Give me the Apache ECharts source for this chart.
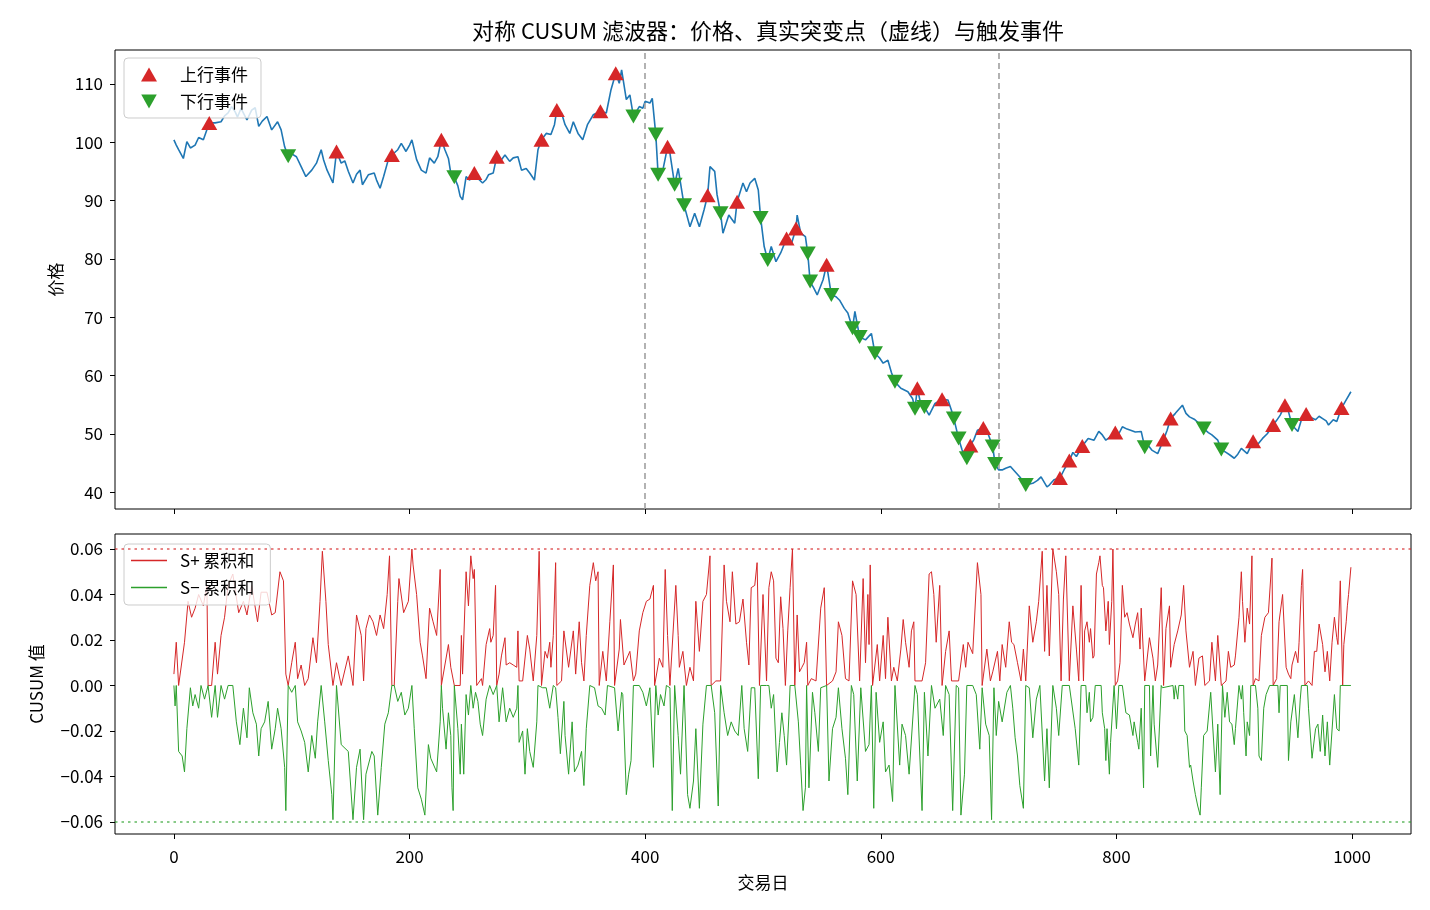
<!DOCTYPE html>
<html>
<head>
<meta charset="utf-8">
<script src="https://cdn.jsdelivr.net/npm/echarts@6/dist/echarts.min.js"></script>
<style>html,body{margin:0;padding:0;background:#fff;}#c{width:1430px;height:910px;}</style>
</head>
<body>
<div id="c"></div>
<script>
const xTicks = [0,200,400,600,800,1000];
const priceTicks = [40,50,60,70,80,90,100,110];
const cusumTicks = [-0.06,-0.04,-0.02,0,0.02,0.04,0.06];
const changePoints = [400,700];
const threshold = 0.06;

const price = [[0,100.4],[2,99.5],[4,98.7],[8,97.2],[11,100.1],[14,99],[18,99.5],[21,100.8],[25,100.4],[30,103.3],[35,103.3],[40,103.5],[43,104.5],[46,105],[49,106.1],[52,105.2],[54,104.3],[57,105.8],[60,104.6],[62,103.8],[66,105.5],[69,105.9],[72,102.7],[75,103.6],[79,104.4],[83,102.1],[88,103.5],[91,102.1],[94,99.2],[97,97.6],[100,98],[104,97.5],[108,95.8],[112,94.1],[117,95.2],[121,96.4],[125,98.7],[127,97],[130,95.2],[135,93],[138,98.4],[142,96.4],[145,96.8],[148,95],[152,93],[155,94.5],[158,95.2],[160,92.7],[165,94.4],[170,94.7],[172,93.5],[175,92.1],[178,94.1],[182,97],[185,97.8],[190,98.7],[193,99.8],[197,98.4],[200,99.5],[202,100.4],[206,97],[210,95.2],[214,94.7],[217,97.3],[221,96.4],[224,97.5],[227,100.4],[230,98.7],[233,97.2],[235,94.7],[238,94.0],[241,92.5],[243,90.7],[245,90.1],[248,94.1],[251,93.5],[255,94.7],[258,93.8],[262,93],[265,93.6],[267,94.4],[271,94.7],[274,97.5],[278,97],[281,97.8],[285,96.7],[288,97.3],[292,97.5],[295,95.2],[299,95.5],[302,94.7],[306,93.5],[309,98.7],[312,100.4],[316,101.5],[320,101.3],[323,103],[325,105.5],[329,105],[332,103],[336,101.5],[339,103.5],[343,101.5],[347,100.4],[351,103],[356,104.7],[359,105],[362,105.3],[367,105],[371,109],[375,111.8],[378,110.1],[380,112.4],[384,107.3],[387,108.1],[390,104.4],[395,106.1],[398,105.8],[400,107],[404,106.7],[406,107.5],[409,101.3],[411,94.4],[415,95.2],[419,99.2],[421,98.1],[425,92.7],[428,95.5],[433,89.2],[438,85.5],[442,87.8],[446,85.5],[450,88.4],[453,90.9],[455,95.8],[459,95],[461,91],[464,87.8],[466,84.4],[471,87.5],[476,86.1],[478,89.8],[483,93],[486,91.5],[489,93],[493,93.8],[496,91.8],[498,87],[501,82.1],[504,79.8],[507,82.1],[511,79.5],[515,81],[520,83.5],[524,82.5],[528,85.2],[529,87.5],[532,84.4],[536,83.8],[538,80.9],[540,76.1],[543,75],[546,73.8],[551,76.4],[554,79],[558,73.8],[562,73.5],[565,72.9],[569,71.5],[572,70.7],[576,68.1],[578,71],[582,66.6],[587,66.1],[592,67.2],[595,63.8],[599,63],[602,62.1],[606,62.6],[609,60.5],[612,58.9],[617,57.8],[623,57.2],[627,56],[629,54.3],[631,57.8],[634,55],[637,54.6],[641,53.2],[646,55.2],[652,55.9],[657,55.8],[660,54],[662,52.6],[666,49.2],[669,47.2],[673,45.8],[676,48],[679,49],[682,50.6],[687,51],[691,50],[695,47.8],[697,44.8],[700,43.8],[703,43.8],[706,44.1],[710,44.4],[714,43.5],[718,42.6],[723,41.2],[729,41.5],[733,42],[736,42.6],[741,40.9],[743,41.2],[747,42.1],[752,42.4],[756,44],[760,45.4],[763,46.8],[766,46.1],[771,47.9],[776,49.2],[781,48.9],[785,50.4],[788,49.8],[791,48.9],[795,49.5],[799,50.2],[802,50],[805,51.2],[809,50.8],[812,50.6],[816,50.3],[821,50.4],[824,47.7],[827,48],[830,47.2],[835,46.6],[840,49],[843,50.6],[846,52.6],[850,53.5],[853,54.2],[856,54.9],[859,53.5],[862,52.9],[866,52.5],[870,51.8],[874,50.9],[878,50.2],[881,49.8],[886,48.9],[889,47.3],[893,46.8],[896,46.4],[900,45.8],[903,46.5],[906,47.5],[911,46.6],[916,48.7],[920,48.2],[924,49.2],[928,50],[933,51.5],[936,52.3],[939,53.2],[943,54.9],[946,53.8],[949,51.5],[954,50.4],[957,52.4],[961,53.4],[965,52.8],[969,52.4],[972,53],[975,52.6],[978,52.2],[980,51.5],[984,52.4],[987,52.1],[991,54.4],[995,55.8],[999,57.2]];

const upEvents = [[30,103.3],[138,98.4],[185,97.8],[227,100.4],[255,94.7],[274,97.5],[312,100.4],[325,105.5],[362,105.3],[375,111.8],[419,99.2],[453,90.9],[478,89.8],[520,83.5],[528,85.2],[554,79],[631,57.8],[652,55.9],[676,48],[687,51],[752,42.4],[760,45.4],[771,47.9],[799,50.2],[840,49],[846,52.6],[916,48.7],[933,51.5],[943,54.9],[961,53.4],[991,54.4]];

const downEvents = [[97,97.6],[238,94],[390,104.4],[409,101.3],[411,94.4],[425,92.7],[433,89.2],[464,87.8],[498,87],[504,79.8],[538,80.9],[540,76.1],[558,73.8],[576,68.1],[582,66.6],[595,63.8],[612,58.9],[629,54.3],[637,54.6],[662,52.6],[666,49.2],[673,45.8],[695,47.8],[697,44.8],[723,41.2],[824,47.7],[874,50.9],[889,47.3],[949,51.5]];

const sPlus = [[0,0.005],[2,0.019],[4,0],[9,0.019],[12,0.037],[15,0.030],[18,0.034],[21,0.040],[25,0.035],[28,0.044],[29,0],[32,0],[35,0.019],[37,0.005],[40,0.022],[43,0.030],[46,0.044],[50,0.049],[55,0.032],[59,0.037],[62,0.031],[66,0.044],[71,0.028],[74,0.041],[79,0.041],[83,0.031],[86,0.032],[90,0.050],[93,0.046],[95,0.005],[97,0],[100,0.010],[103,0.019],[105,0.003],[108,0.009],[111,0],[114,0.003],[118,0.021],[121,0.010],[124,0.037],[126,0.059],[129,0.037],[131,0.018],[135,0],[138,0.010],[142,0],[148,0.013],[152,0],[155,0.031],[159,0.022],[161,0.002],[163,0.025],[166,0.031],[169,0.028],[172,0.022],[175,0.031],[178,0.025],[181,0.040],[183,0.057],[185,0],[187,0],[190,0.037],[191,0.047],[195,0.032],[199,0.037],[202,0.060],[203,0.053],[206,0.040],[209,0.019],[211,0.013],[214,0.003],[217,0.034],[220,0.028],[223,0.022],[226,0.051],[227,0],[233,0.018],[235,0.008],[238,0],[243,0],[244,0.022],[245,0.005],[248,0.050],[250,0.035],[252,0.057],[254,0.047],[255,0.051],[257,0],[261,0.003],[262,0],[265,0.018],[268,0.025],[269,0.019],[271,0.022],[273,0.044],[274,0],[276,0.005],[278,0.013],[281,0.021],[282,0.009],[285,0.010],[288,0.009],[291,0.008],[292,0.024],[293,0.002],[296,0.002],[300,0.022],[302,0.016],[305,0.002],[308,0.022],[310,0.059],[312,0],[315,0.015],[317,0.012],[319,0.019],[320,0.008],[322,0.022],[324,0.054],[325,0],[329,0.002],[331,0.024],[335,0.008],[339,0.024],[341,0.005],[344,0.028],[346,0.010],[348,0.002],[350,0.022],[353,0.044],[356,0.054],[358,0.046],[360,0.050],[361,0],[364,0.015],[367,0.002],[370,0.028],[373,0.053],[374,0],[378,0.016],[379,0.029],[382,0.009],[387,0.015],[390,0.002],[392,0.005],[395,0.024],[398,0.032],[401,0.037],[404,0.038],[407,0.044],[408,0],[412,0.012],[415,0.008],[417,0.051],[419,0.022],[421,0],[426,0.044],[428,0.022],[429,0.008],[432,0.015],[435,0],[438,0.008],[441,0.002],[443,0.037],[446,0.015],[449,0.037],[452,0.040],[455,0.057],[456,0],[460,0.002],[464,0.002],[467,0.053],[469,0.037],[472,0.028],[474,0.050],[477,0.027],[480,0.028],[483,0.038],[486,0.019],[488,0.009],[490,0.043],[493,0.044],[495,0.054],[497,0],[500,0.040],[503,0.002],[505,0.043],[507,0.050],[509,0.046],[511,0.012],[513,0.010],[515,0.039],[517,0.025],[519,0],[521,0.024],[523,0.043],[525,0.060],[527,0],[529,0.031],[531,0.006],[533,0.008],[535,0.010],[537,0.019],[538,0],[541,0.003],[545,0.002],[549,0.034],[552,0.043],[554,0],[559,0.002],[562,0.006],[564,0.028],[567,0.022],[570,0.003],[573,0.002],[576,0.046],[579,0.040],[582,0.002],[585,0.047],[587,0.010],[589,0.040],[590,0.018],[591,0.053],[593,0],[597,0.018],[599,0.002],[602,0.022],[604,0.003],[606,0.030],[609,0.002],[611,0.008],[614,0.002],[617,0.016],[619,0.029],[621,0.019],[624,0.008],[626,0.024],[628,0.028],[629,0.002],[635,0.002],[638,0.010],[641,0.049],[643,0.050],[645,0.040],[647,0.019],[650,0.044],[652,0],[655,0.015],[658,0.024],[660,0.002],[666,0.002],[670,0.018],[672,0.008],[674,0.019],[678,0.014],[682,0.054],[685,0.040],[686,0],[690,0.016],[693,0.002],[695,0.006],[699,0.015],[701,0.002],[703,0.018],[706,0.008],[709,0.028],[711,0.019],[713,0.018],[716,0.010],[719,0.002],[721,0.016],[723,0.002],[726,0.035],[729,0.019],[732,0.028],[734,0.037],[737,0.059],[739,0.015],[741,0.044],[743,0.013],[746,0.060],[749,0.050],[751,0.040],[753,0.002],[755,0.038],[757,0.057],[760,0.002],[763,0.035],[766,0.016],[768,0.002],[770,0.044],[772,0.002],[773,0.024],[775,0.028],[777,0.019],[778,0.025],[780,0.012],[781,0.013],[783,0.049],[785,0.054],[786,0.057],[788,0.044],[789,0.043],[791,0.024],[793,0.037],[794,0.018],[796,0.037],[797,0.060],[799,0],[801,0.002],[803,0.010],[805,0.044],[807,0.030],[809,0.032],[811,0.027],[814,0.021],[816,0.027],[818,0.032],[820,0.016],[821,0.034],[824,0.002],[828,0.021],[831,0.012],[833,0.002],[835,0.009],[838,0.043],[840,0],[842,0.025],[845,0.035],[846,0.008],[849,0.018],[852,0.024],[855,0.031],[857,0.044],[859,0.024],[862,0.008],[865,0.015],[867,0],[870,0.012],[873,0.013],[875,0],[879,0.002],[881,0.019],[884,0.002],[886,0.022],[889,0],[893,0.002],[895,0.015],[897,0.008],[900,0.009],[901,0.013],[904,0.030],[906,0.050],[907,0.037],[909,0.019],[911,0.034],[913,0.027],[915,0.057],[916,0],[918,0.003],[921,0.002],[923,0.022],[926,0.030],[929,0.032],[932,0.056],[933,0],[936,0.003],[938,0.028],[941,0.040],[944,0.008],[946,0.005],[948,0.003],[949,0.009],[952,0.015],[954,0.010],[955,0.019],[957,0.044],[958,0.051],[960,0],[963,0.002],[966,0],[968,0.015],[970,0.015],[972,0.027],[975,0.018],[977,0.006],[979,0.015],[981,0.002],[983,0.019],[985,0.030],[987,0.021],[988,0.018],[990,0.046],[992,0],[993,0.018],[995,0.028],[996,0.035],[997,0.040],[999,0.052]];

const sMinus = [[0,0],[1,-0.009],[2,0],[4,-0.029],[7,-0.031],[9,-0.038],[11,-0.019],[14,-0.001],[16,-0.009],[18,-0.004],[21,-0.010],[23,0],[26,-0.006],[29,0],[32,-0.014],[35,0],[37,-0.014],[40,0],[43,-0.006],[46,0],[50,0],[53,-0.016],[56,-0.026],[59,-0.010],[62,-0.023],[64,-0.001],[67,-0.012],[70,-0.017],[72,-0.031],[74,-0.019],[77,-0.016],[80,-0.007],[83,-0.028],[86,-0.019],[88,-0.010],[91,-0.019],[94,-0.036],[95,-0.055],[97,0],[100,-0.003],[103,0],[105,-0.016],[108,-0.020],[111,-0.025],[114,-0.038],[117,-0.022],[120,-0.032],[122,-0.016],[125,0],[128,-0.016],[131,-0.033],[134,-0.048],[135,-0.059],[138,0],[142,-0.026],[148,-0.029],[152,-0.059],[155,-0.036],[158,-0.028],[161,-0.059],[163,-0.039],[168,-0.029],[170,-0.031],[173,-0.057],[176,-0.036],[179,-0.017],[182,-0.012],[185,0],[187,0],[190,-0.007],[193,-0.003],[196,-0.013],[199,-0.010],[202,0],[204,-0.019],[207,-0.045],[210,-0.050],[213,-0.057],[216,-0.026],[218,-0.032],[223,-0.038],[226,-0.016],[227,0],[228,-0.010],[231,-0.028],[233,-0.012],[235,-0.022],[236,-0.045],[237,-0.055],[238,0],[241,-0.019],[243,-0.039],[244,-0.017],[246,-0.039],[248,-0.004],[250,-0.013],[252,0],[254,-0.010],[256,-0.003],[258,-0.007],[260,-0.017],[262,-0.022],[265,-0.006],[268,0],[271,-0.004],[274,0],[276,-0.016],[279,-0.001],[282,-0.016],[285,-0.010],[288,-0.014],[291,-0.010],[292,0],[293,-0.025],[296,-0.020],[298,-0.039],[300,-0.019],[302,-0.029],[305,-0.036],[308,-0.016],[309,0],[313,-0.001],[316,-0.001],[319,-0.010],[322,0],[324,-0.001],[326,-0.014],[328,-0.030],[331,-0.007],[332,-0.022],[335,-0.039],[338,-0.016],[340,-0.038],[343,-0.035],[346,-0.029],[348,-0.044],[350,-0.019],[353,0],[357,-0.001],[360,-0.009],[363,-0.010],[366,-0.013],[368,0],[374,-0.001],[377,-0.020],[380,-0.003],[381,-0.004],[384,-0.048],[386,-0.039],[388,-0.033],[390,0],[395,0],[398,-0.003],[401,-0.009],[404,-0.001],[407,-0.036],[409,0],[411,-0.013],[413,-0.004],[416,-0.009],[418,0],[421,-0.001],[423,-0.055],[425,0],[428,-0.022],[430,-0.039],[433,0],[436,-0.048],[438,-0.054],[441,-0.042],[443,-0.019],[446,-0.054],[449,-0.017],[452,0],[456,0],[459,-0.012],[462,-0.053],[464,0],[467,-0.012],[470,-0.022],[473,-0.016],[476,-0.020],[479,-0.022],[482,0],[484,-0.019],[487,-0.029],[490,-0.001],[493,-0.001],[496,-0.041],[498,0],[500,0],[503,0],[505,0],[507,-0.010],[509,-0.004],[512,-0.038],[514,-0.025],[516,-0.012],[518,-0.022],[520,-0.035],[522,-0.013],[523,0],[527,0],[530,-0.016],[532,-0.035],[534,-0.055],[536,-0.045],[537,0],[539,-0.045],[542,-0.003],[544,-0.012],[547,-0.029],[549,-0.001],[554,0],[556,-0.042],[559,-0.019],[562,-0.014],[564,-0.001],[567,-0.019],[570,-0.032],[572,-0.048],[575,0],[577,-0.004],[580,-0.042],[583,-0.001],[587,-0.029],[590,-0.026],[592,0],[594,-0.054],[596,-0.003],[599,-0.025],[602,-0.016],[604,-0.038],[607,-0.035],[610,-0.051],[612,0],[616,-0.035],[618,-0.017],[621,-0.022],[624,-0.039],[629,0],[631,-0.004],[635,-0.055],[637,-0.003],[640,-0.031],[643,0],[646,-0.010],[650,-0.006],[653,-0.022],[655,0],[658,-0.004],[661,-0.055],[664,0],[666,-0.001],[668,-0.057],[671,-0.039],[673,0],[678,0],[681,-0.004],[684,-0.028],[686,-0.001],[689,-0.017],[692,-0.022],[694,-0.059],[696,-0.001],[698,-0.022],[700,-0.007],[703,-0.016],[707,-0.003],[710,0],[712,-0.010],[714,-0.023],[716,-0.031],[718,-0.044],[721,-0.054],[723,0],[726,-0.001],[729,-0.023],[732,-0.006],[735,0],[739,-0.042],[741,-0.019],[743,-0.045],[746,0],[749,-0.010],[751,-0.022],[754,0],[760,0],[765,-0.019],[768,-0.035],[770,0],[774,0],[775,-0.012],[777,-0.003],[778,-0.016],[780,-0.014],[782,0],[787,0],[788,-0.012],[790,-0.019],[791,-0.033],[792,-0.019],[794,-0.039],[795,-0.025],[798,0],[800,-0.019],[802,0],[805,0],[808,-0.012],[811,-0.013],[814,-0.022],[815,-0.016],[818,-0.025],[819,-0.028],[821,-0.010],[823,-0.045],[824,0],[828,0],[829,-0.031],[831,0],[832,-0.017],[835,-0.036],[838,0],[839,-0.001],[848,0],[849,-0.006],[850,0],[852,-0.006],[853,0],[857,0],[858,-0.020],[860,-0.022],[862,-0.036],[863,-0.035],[865,-0.042],[867,-0.048],[869,-0.053],[871,-0.057],[872,-0.045],[874,-0.022],[877,-0.020],[880,-0.003],[884,-0.038],[886,-0.017],[888,-0.048],[890,0],[892,-0.014],[894,-0.003],[896,-0.016],[898,-0.017],[900,-0.026],[901,-0.019],[904,0],[906,-0.006],[907,0],[908,-0.012],[910,-0.031],[911,-0.016],[913,-0.022],[914,0],[918,0],[920,-0.010],[921,-0.031],[923,-0.033],[925,-0.010],[927,-0.004],[930,0],[937,0],[938,-0.012],[939,0],[945,0],[946,-0.033],[948,-0.016],[951,-0.004],[954,-0.023],[956,-0.006],[957,0],[962,0],[963,-0.010],[966,-0.032],[969,-0.019],[971,-0.017],[973,-0.029],[975,-0.013],[977,-0.031],[979,-0.016],[981,-0.035],[985,-0.004],[987,-0.019],[989,-0.020],[990,0],[999,0]];

const FONT = '"Noto Sans CJK SC", "Noto Sans", sans-serif';
const chart = echarts.init(document.getElementById('c'), null, {renderer: 'canvas'});
const fmtMinus = v => (Math.abs(v) < 1e-9 ? '0.00' : v.toFixed(2).replace('-', '\u2212'));
const fmtInt = v => String(Math.round(v));

const commonX = {
  type: 'value', min: -50, max: 1050,
  axisLine: {show: false, onZero: false},
  splitLine: {show: false},
  axisTick: {show: true, length: 5, inside: false, customValues: xTicks, lineStyle: {color: '#000'}}
};

chart.setOption({
  animation: false,
  backgroundColor: '#fff',
  textStyle: {fontFamily: FONT},
  title: {
    text: '对称 CUSUM 滤波器：价格、真实突变点（虚线）与触发事件',
    left: 763, top: 15, textAlign: 'center',
    textStyle: {fontSize: 22, fontWeight: 'normal', color: '#000', fontFamily: FONT}
  },
  legend: [
    {
      data: ['上行事件', '下行事件'],
      orient: 'vertical', left: 124, top: 58,
      itemWidth: 16, itemHeight: 14, itemGap: 10,
      padding: [8, 13, 8, 17],
      backgroundColor: 'rgba(255,255,255,0.8)', borderColor: '#cccccc', borderWidth: 1, borderRadius: 4,
      textStyle: {fontSize: 17, color: '#000', fontFamily: FONT, padding: [0, 0, 0, 18]}
    },
    {
      data: ['S+ 累积和', 'S\u2212 累积和'],
      orient: 'vertical', left: 124, top: 544,
      itemWidth: 36, itemHeight: 1.5, itemGap: 10,
      icon: 'rect',
      padding: [8, 16, 9, 7],
      backgroundColor: 'rgba(255,255,255,0.8)', borderColor: '#cccccc', borderWidth: 1, borderRadius: 4,
      textStyle: {fontSize: 17, color: '#000', fontFamily: FONT, padding: [0, 0, 0, 8]}
    }
  ],
  grid: [
    {left: 115, right: 19, top: 50, height: 459, show: true, borderColor: '#000', borderWidth: 1, backgroundColor: 'transparent'},
    {left: 115, right: 19, top: 534, height: 300, show: true, borderColor: '#000', borderWidth: 1, backgroundColor: 'transparent'}
  ],
  xAxis: [
    Object.assign({}, commonX, {gridIndex: 0, axisLabel: {show: false}}),
    Object.assign({}, commonX, {
      gridIndex: 1,
      name: '交易日', nameLocation: 'middle', nameGap: 40,
      nameTextStyle: {fontSize: 17, color: '#000', fontFamily: FONT},
      axisLabel: {show: true, customValues: xTicks, fontSize: 17, color: '#000', margin: 14, fontFamily: FONT, formatter: fmtInt}
    })
  ],
  yAxis: [
    {
      type: 'value', gridIndex: 0, min: 37.1, max: 115.8,
      name: '价格', nameLocation: 'middle', nameGap: 50, nameRotate: 90,
      nameTextStyle: {fontSize: 17, color: '#000', fontFamily: FONT},
      axisLine: {show: false, onZero: false}, splitLine: {show: false},
      axisTick: {show: true, length: 5, customValues: priceTicks, lineStyle: {color: '#000'}},
      axisLabel: {customValues: priceTicks, fontSize: 17, color: '#000', margin: 12, fontFamily: FONT, formatter: fmtInt}
    },
    {
      type: 'value', gridIndex: 1, min: -0.0653, max: 0.0666,
      name: 'CUSUM 值', nameLocation: 'middle', nameGap: 70, nameRotate: 90,
      nameTextStyle: {fontSize: 17, color: '#000', fontFamily: FONT},
      axisLine: {show: false, onZero: false}, splitLine: {show: false},
      axisTick: {show: true, length: 5, customValues: cusumTicks, lineStyle: {color: '#000'}},
      axisLabel: {customValues: cusumTicks, fontSize: 17, color: '#000', margin: 12, fontFamily: FONT, formatter: fmtMinus}
    }
  ],
  series: [
    {
      name: '价格', type: 'line', xAxisIndex: 0, yAxisIndex: 0, data: price,
      showSymbol: false, symbol: 'none', z: 2,
      lineStyle: {color: '#1f77b4', width: 1.6}, itemStyle: {color: '#1f77b4'},
      markLine: {
        silent: true, symbol: 'none', label: {show: false},
        lineStyle: {color: '#a0a0a0', type: [6, 4], width: 1.6},
        data: changePoints.map(v => ({xAxis: v}))
      }
    },
    {
      name: '上行事件', type: 'scatter', xAxisIndex: 0, yAxisIndex: 0, data: upEvents,
      symbol: 'triangle', symbolSize: [16, 14], z: 5,
      itemStyle: {color: '#d62728', opacity: 1}
    },
    {
      name: '下行事件', type: 'scatter', xAxisIndex: 0, yAxisIndex: 0, data: downEvents,
      symbol: 'path://M0,0L10,0L5,9Z', symbolSize: [16, 14], z: 5,
      itemStyle: {color: '#2ca02c', opacity: 1}
    },
    {
      name: 'S+ 累积和', type: 'line', xAxisIndex: 1, yAxisIndex: 1, data: sPlus,
      showSymbol: false, symbol: 'none',
      lineStyle: {color: '#d62728', width: 1}, itemStyle: {color: '#d62728'},
      markLine: {
        silent: true, symbol: 'none', label: {show: false},
        lineStyle: {color: 'rgba(214,39,40,0.75)', type: [2.5, 4], width: 1.6},
        data: [{yAxis: threshold}]
      }
    },
    {
      name: 'S\u2212 累积和', type: 'line', xAxisIndex: 1, yAxisIndex: 1, data: sMinus,
      showSymbol: false, symbol: 'none',
      lineStyle: {color: '#2ca02c', width: 1}, itemStyle: {color: '#2ca02c'},
      markLine: {
        silent: true, symbol: 'none', label: {show: false},
        lineStyle: {color: 'rgba(44,160,44,0.75)', type: [2.5, 4], width: 1.6},
        data: [{yAxis: -threshold}]
      }
    }
  ]
});
</script>
</body>
</html>
